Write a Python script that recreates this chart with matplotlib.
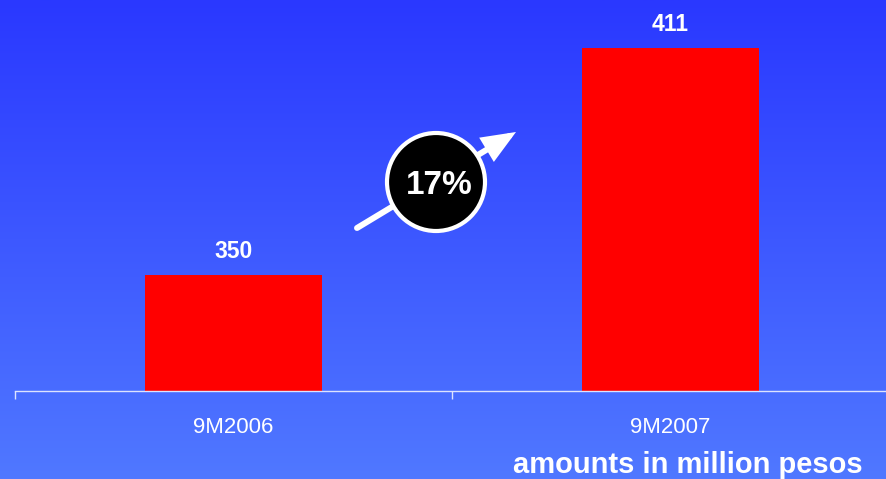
import matplotlib.pyplot as plt
import numpy as np
from matplotlib.patches import Circle, FancyArrowPatch, ArrowStyle

plt.rcParams['font.family'] = ['Liberation Sans', 'DejaVu Sans']

periods = ['9M2006', '9M2007']
amounts = [350, 411]
growth = '17%'
note = 'amounts in million pesos'

fig = plt.figure(figsize=(8.86, 4.79), dpi=100)

# gradient background
bg = fig.add_axes([0, 0, 1, 1], zorder=0)
top = np.array([42, 56, 255]) / 255
bot = np.array([80, 120, 255]) / 255
t = np.linspace(0, 1, 256)[:, None]
grad = (top * (1 - t) + bot * t)[:, None, :]
bg.imshow(grad, aspect='auto', extent=[0, 1, 0, 1])
bg.set_axis_off()

ax = fig.add_axes([15 / 886, 88.5 / 479, 874 / 886, 390.5 / 479], zorder=1)
ax.patch.set_alpha(0)
x = np.arange(len(periods))
ax.bar(x, amounts, width=0.403, color='#ff0000', zorder=2)
for xi, v in zip(x, amounts):
    ax.annotate(str(v), (xi, v), xytext=(0, 9), textcoords='offset points',
                ha='center', va='bottom', color='white', fontsize=16.5, fontweight='bold')

ax.set_xlim(-0.5, 1.5)
ax.set_ylim(319, 424)
for s in ['top', 'right', 'left']:
    ax.spines[s].set_visible(False)
ax.spines['bottom'].set_color('#dde3ff')
ax.spines['bottom'].set_linewidth(1)
ax.set_yticks([])
ax.set_xticks(x)
ax.set_xticklabels(periods, color='white', fontsize=16)
ax.tick_params(axis='x', which='major', length=0, pad=19)
ax.set_xticks([-0.5, 0.5, 1.5], minor=True)
ax.tick_params(axis='x', which='minor', length=6, color='#dde3ff', width=1)

# growth arrow and badge
arr = FancyArrowPatch(posA=(3.57, 2.51), posB=(5.16, 3.47), transform=fig.dpi_scale_trans,
                      arrowstyle=ArrowStyle('-|>', head_length=1.7, head_width=0.7),
                      mutation_scale=10, lw=4.3, color='white', shrinkA=0, shrinkB=0,
                      joinstyle='miter', zorder=3)
fig.add_artist(arr)
circ = Circle((4.36, 2.97), 0.49, transform=fig.dpi_scale_trans, facecolor='black',
              edgecolor='white', lw=3, zorder=4)
fig.add_artist(circ)
fig.text(4.39 / 8.86, 2.93 / 4.79, growth, ha='center', va='center', color='white',
         fontsize=24, fontweight='bold', zorder=5)

fig.text(863 / 886, 6 / 479, note, ha='right', va='baseline', color='white',
         fontsize=21, fontweight='bold')

fig.savefig('out.png', dpi=100)
